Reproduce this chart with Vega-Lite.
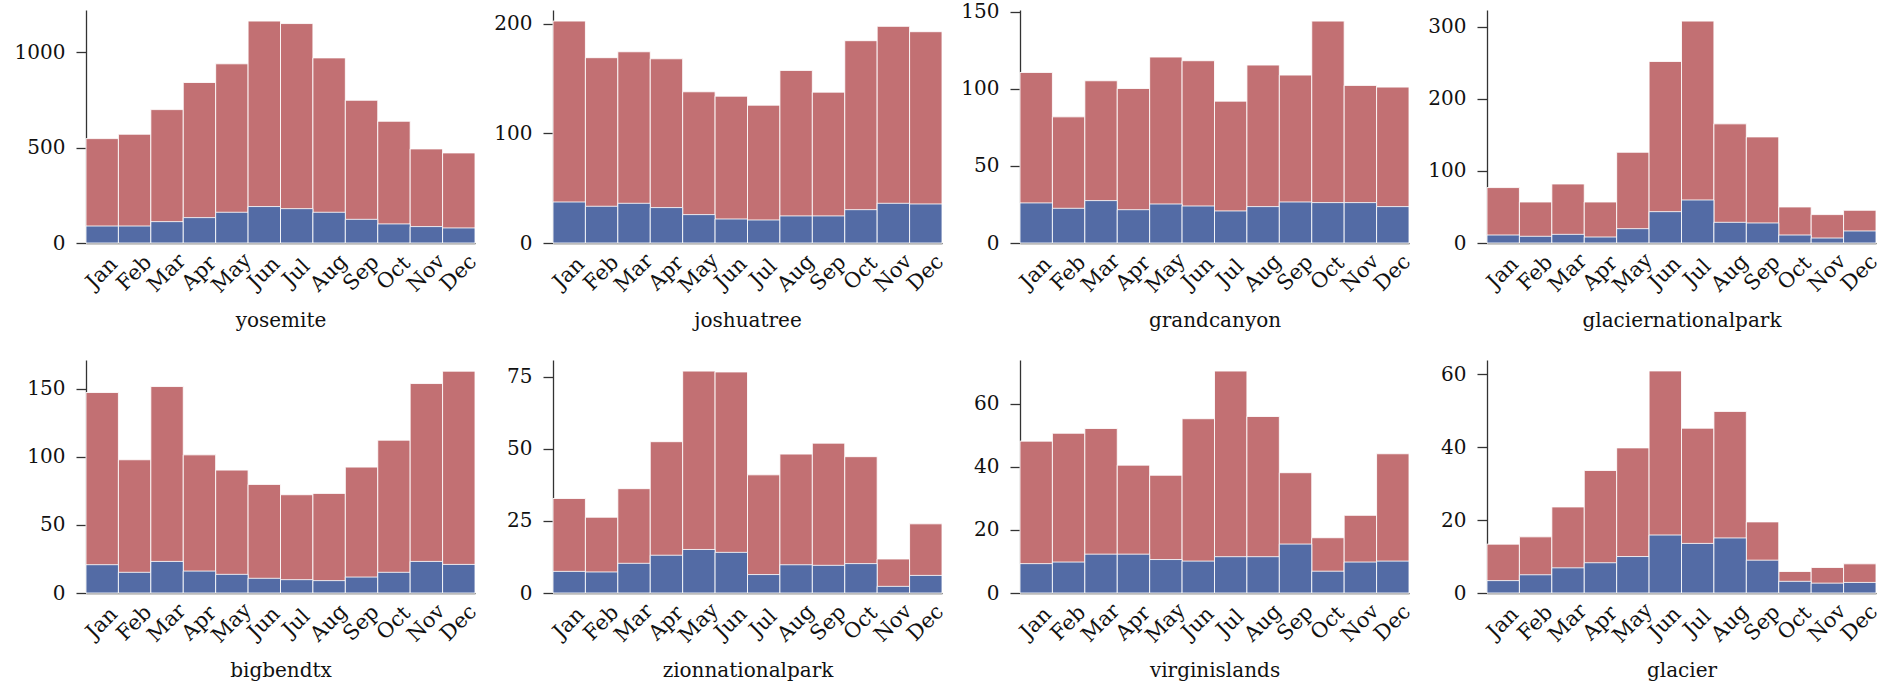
{
  "$schema": "https://vega.github.io/schema/vega-lite/v6.json",
  "background": "white",
  "padding": {"left": 14, "top": 1, "right": 0, "bottom": 0},
  "columns": 4,
  "bounds": "flush",
  "spacing": {"row": 117, "column": 78},
  "config": {
    "view": {"stroke": null},
    "font": "DejaVu Serif",
    "bar": {"stroke": "#ffffff", "strokeWidth": 1, "strokeOpacity": 0.85},
    "axis": {"labelFont": "DejaVu Serif", "labelFontSize": 20, "labelColor": "#111111", "titleFont": "DejaVu Serif", "titleFontSize": 20, "titleFontWeight": "normal", "titleColor": "#111111", "domainColor": "#333333", "domainWidth": 1.3, "tickColor": "#333333", "tickWidth": 1.3, "grid": false},
    "axisX": {"ticks": false, "labelAngle": -45, "labelAlign": "center", "labelBaseline": "middle", "labelPadding": 30, "labelFontSize": 21, "titlePadding": 14},
    "axisY": {"tickSize": 10, "labelPadding": 11, "labelFontSize": 20}
  },
  "data": {"values": [
    {"park":"yosemite","month":"Jan","total":547,"part":89},
    {"park":"yosemite","month":"Feb","total":570,"part":89},
    {"park":"yosemite","month":"Mar","total":699,"part":112},
    {"park":"yosemite","month":"Apr","total":841,"part":133},
    {"park":"yosemite","month":"May","total":939,"part":161},
    {"park":"yosemite","month":"Jun","total":1163,"part":191},
    {"park":"yosemite","month":"Jul","total":1150,"part":180},
    {"park":"yosemite","month":"Aug","total":970,"part":161},
    {"park":"yosemite","month":"Sep","total":748,"part":124},
    {"park":"yosemite","month":"Oct","total":638,"part":100},
    {"park":"yosemite","month":"Nov","total":493,"part":86},
    {"park":"yosemite","month":"Dec","total":472,"part":79},
    {"park":"joshuatree","month":"Jan","total":202.4,"part":37.4},
    {"park":"joshuatree","month":"Feb","total":169,"part":33.5},
    {"park":"joshuatree","month":"Mar","total":174.4,"part":36.2},
    {"park":"joshuatree","month":"Apr","total":168,"part":32.3},
    {"park":"joshuatree","month":"May","total":137.9,"part":25.9},
    {"park":"joshuatree","month":"Jun","total":133.9,"part":21.9},
    {"park":"joshuatree","month":"Jul","total":125.7,"part":21},
    {"park":"joshuatree","month":"Aug","total":157.4,"part":24.7},
    {"park":"joshuatree","month":"Sep","total":137.6,"part":24.7},
    {"park":"joshuatree","month":"Oct","total":184.5,"part":30.4},
    {"park":"joshuatree","month":"Nov","total":197.6,"part":36.2},
    {"park":"joshuatree","month":"Dec","total":192.7,"part":35.6},
    {"park":"grandcanyon","month":"Jan","total":110.6,"part":26},
    {"park":"grandcanyon","month":"Feb","total":81.8,"part":22.5},
    {"park":"grandcanyon","month":"Mar","total":105.2,"part":27.5},
    {"park":"grandcanyon","month":"Apr","total":100.2,"part":21.6},
    {"park":"grandcanyon","month":"May","total":120.6,"part":25.3},
    {"park":"grandcanyon","month":"Jun","total":118.2,"part":24},
    {"park":"grandcanyon","month":"Jul","total":92,"part":20.8},
    {"park":"grandcanyon","month":"Aug","total":115.4,"part":23.6},
    {"park":"grandcanyon","month":"Sep","total":108.9,"part":26.6},
    {"park":"grandcanyon","month":"Oct","total":143.9,"part":26.2},
    {"park":"grandcanyon","month":"Nov","total":102.2,"part":26.2},
    {"park":"grandcanyon","month":"Dec","total":101.1,"part":23.6},
    {"park":"glaciernationalpark","month":"Jan","total":76.9,"part":11.1},
    {"park":"glaciernationalpark","month":"Feb","total":56.9,"part":9.3},
    {"park":"glaciernationalpark","month":"Mar","total":81.9,"part":12},
    {"park":"glaciernationalpark","month":"Apr","total":56.9,"part":8.3},
    {"park":"glaciernationalpark","month":"May","total":125.9,"part":19.9},
    {"park":"glaciernationalpark","month":"Jun","total":251.9,"part":43.5},
    {"park":"glaciernationalpark","month":"Jul","total":307.9,"part":59.7},
    {"park":"glaciernationalpark","month":"Aug","total":165.3,"part":28.7},
    {"park":"glaciernationalpark","month":"Sep","total":147.2,"part":27.8},
    {"park":"glaciernationalpark","month":"Oct","total":50,"part":11.1},
    {"park":"glaciernationalpark","month":"Nov","total":39.4,"part":6.9},
    {"park":"glaciernationalpark","month":"Dec","total":45.4,"part":16.7},
    {"park":"bigbendtx","month":"Jan","total":147.3,"part":20.8},
    {"park":"bigbendtx","month":"Feb","total":97.9,"part":15.2},
    {"park":"bigbendtx","month":"Mar","total":151.7,"part":23.2},
    {"park":"bigbendtx","month":"Apr","total":101.5,"part":16.1},
    {"park":"bigbendtx","month":"May","total":90.3,"part":13.7},
    {"park":"bigbendtx","month":"Jun","total":79.8,"part":10.8},
    {"park":"bigbendtx","month":"Jul","total":72.2,"part":9.8},
    {"park":"bigbendtx","month":"Aug","total":73.2,"part":9.1},
    {"park":"bigbendtx","month":"Sep","total":92.5,"part":11.7},
    {"park":"bigbendtx","month":"Oct","total":112.3,"part":15.2},
    {"park":"bigbendtx","month":"Nov","total":153.9,"part":23.2},
    {"park":"bigbendtx","month":"Dec","total":163,"part":21},
    {"park":"zionnationalpark","month":"Jan","total":32.8,"part":7.5},
    {"park":"zionnationalpark","month":"Feb","total":26.3,"part":7.3},
    {"park":"zionnationalpark","month":"Mar","total":36.2,"part":10.3},
    {"park":"zionnationalpark","month":"Apr","total":52.5,"part":13.1},
    {"park":"zionnationalpark","month":"May","total":77,"part":15.1},
    {"park":"zionnationalpark","month":"Jun","total":76.7,"part":14.1},
    {"park":"zionnationalpark","month":"Jul","total":41,"part":6.4},
    {"park":"zionnationalpark","month":"Aug","total":48.2,"part":9.8},
    {"park":"zionnationalpark","month":"Sep","total":52,"part":9.6},
    {"park":"zionnationalpark","month":"Oct","total":47.3,"part":10.2},
    {"park":"zionnationalpark","month":"Nov","total":11.8,"part":2.3},
    {"park":"zionnationalpark","month":"Dec","total":24,"part":6.1},
    {"park":"virginislands","month":"Jan","total":48.1,"part":9.3},
    {"park":"virginislands","month":"Feb","total":50.6,"part":9.8},
    {"park":"virginislands","month":"Mar","total":52.1,"part":12.3},
    {"park":"virginislands","month":"Apr","total":40.5,"part":12.3},
    {"park":"virginislands","month":"May","total":37.3,"part":10.6},
    {"park":"virginislands","month":"Jun","total":55.2,"part":10.1},
    {"park":"virginislands","month":"Jul","total":70.3,"part":11.5},
    {"park":"virginislands","month":"Aug","total":55.9,"part":11.5},
    {"park":"virginislands","month":"Sep","total":38.1,"part":15.5},
    {"park":"virginislands","month":"Oct","total":17.5,"part":6.9},
    {"park":"virginislands","month":"Nov","total":24.6,"part":9.8},
    {"park":"virginislands","month":"Dec","total":44.1,"part":10.1},
    {"park":"glacier","month":"Jan","total":13.4,"part":3.4},
    {"park":"glacier","month":"Feb","total":15.4,"part":5},
    {"park":"glacier","month":"Mar","total":23.6,"part":6.9},
    {"park":"glacier","month":"Apr","total":33.6,"part":8.3},
    {"park":"glacier","month":"May","total":39.8,"part":10},
    {"park":"glacier","month":"Jun","total":60.9,"part":15.9},
    {"park":"glacier","month":"Jul","total":45.2,"part":13.6},
    {"park":"glacier","month":"Aug","total":49.8,"part":15.1},
    {"park":"glacier","month":"Sep","total":19.5,"part":9},
    {"park":"glacier","month":"Oct","total":5.9,"part":3.2},
    {"park":"glacier","month":"Nov","total":7,"part":2.7},
    {"park":"glacier","month":"Dec","total":8,"part":2.9}
  ]},
  "concat": [
    {"transform":[{"filter":"datum.park == 'yosemite'"}],"width":389,"height":233,
     "encoding":{"x":{"field":"month","type":"ordinal","sort":["Jan","Feb","Mar","Apr","May","Jun","Jul","Aug","Sep","Oct","Nov","Dec"],"scale":{"paddingInner":0,"paddingOuter":0},"title":"yosemite"}},
     "layer":[
       {"mark":{"type":"bar","color":"#C27073"},"encoding":{"y":{"field":"total","type":"quantitative","title":null,"scale":{"domain":[0,1221],"nice":false},"axis":{"values":[0,500,1000],"format":"d"}}}},
       {"mark":{"type":"bar","color":"#536BA5"},"encoding":{"y":{"field":"part","type":"quantitative","title":null}}}
     ]},
    {"transform":[{"filter":"datum.park == 'joshuatree'"}],"width":389,"height":233,
     "encoding":{"x":{"field":"month","type":"ordinal","sort":["Jan","Feb","Mar","Apr","May","Jun","Jul","Aug","Sep","Oct","Nov","Dec"],"scale":{"paddingInner":0,"paddingOuter":0},"title":"joshuatree"}},
     "layer":[
       {"mark":{"type":"bar","color":"#C27073"},"encoding":{"y":{"field":"total","type":"quantitative","title":null,"scale":{"domain":[0,212.5],"nice":false},"axis":{"values":[0,100,200]}}}},
       {"mark":{"type":"bar","color":"#536BA5"},"encoding":{"y":{"field":"part","type":"quantitative","title":null}}}
     ]},
    {"transform":[{"filter":"datum.park == 'grandcanyon'"}],"width":389,"height":233,
     "encoding":{"x":{"field":"month","type":"ordinal","sort":["Jan","Feb","Mar","Apr","May","Jun","Jul","Aug","Sep","Oct","Nov","Dec"],"scale":{"paddingInner":0,"paddingOuter":0},"title":"grandcanyon"}},
     "layer":[
       {"mark":{"type":"bar","color":"#C27073"},"encoding":{"y":{"field":"total","type":"quantitative","title":null,"scale":{"domain":[0,151.1],"nice":false},"axis":{"values":[0,50,100,150]}}}},
       {"mark":{"type":"bar","color":"#536BA5"},"encoding":{"y":{"field":"part","type":"quantitative","title":null}}}
     ]},
    {"transform":[{"filter":"datum.park == 'glaciernationalpark'"}],"width":389,"height":233,
     "encoding":{"x":{"field":"month","type":"ordinal","sort":["Jan","Feb","Mar","Apr","May","Jun","Jul","Aug","Sep","Oct","Nov","Dec"],"scale":{"paddingInner":0,"paddingOuter":0},"title":"glaciernationalpark"}},
     "layer":[
       {"mark":{"type":"bar","color":"#C27073"},"encoding":{"y":{"field":"total","type":"quantitative","title":null,"scale":{"domain":[0,323.3],"nice":false},"axis":{"values":[0,100,200,300]}}}},
       {"mark":{"type":"bar","color":"#536BA5"},"encoding":{"y":{"field":"part","type":"quantitative","title":null}}}
     ]},
    {"transform":[{"filter":"datum.park == 'bigbendtx'"}],"width":389,"height":233,
     "encoding":{"x":{"field":"month","type":"ordinal","sort":["Jan","Feb","Mar","Apr","May","Jun","Jul","Aug","Sep","Oct","Nov","Dec"],"scale":{"paddingInner":0,"paddingOuter":0},"title":"bigbendtx"}},
     "layer":[
       {"mark":{"type":"bar","color":"#C27073"},"encoding":{"y":{"field":"total","type":"quantitative","title":null,"scale":{"domain":[0,171.2],"nice":false},"axis":{"values":[0,50,100,150]}}}},
       {"mark":{"type":"bar","color":"#536BA5"},"encoding":{"y":{"field":"part","type":"quantitative","title":null}}}
     ]},
    {"transform":[{"filter":"datum.park == 'zionnationalpark'"}],"width":389,"height":233,
     "encoding":{"x":{"field":"month","type":"ordinal","sort":["Jan","Feb","Mar","Apr","May","Jun","Jul","Aug","Sep","Oct","Nov","Dec"],"scale":{"paddingInner":0,"paddingOuter":0},"title":"zionnationalpark"}},
     "layer":[
       {"mark":{"type":"bar","color":"#C27073"},"encoding":{"y":{"field":"total","type":"quantitative","title":null,"scale":{"domain":[0,80.85],"nice":false},"axis":{"values":[0,25,50,75]}}}},
       {"mark":{"type":"bar","color":"#536BA5"},"encoding":{"y":{"field":"part","type":"quantitative","title":null}}}
     ]},
    {"transform":[{"filter":"datum.park == 'virginislands'"}],"width":389,"height":233,
     "encoding":{"x":{"field":"month","type":"ordinal","sort":["Jan","Feb","Mar","Apr","May","Jun","Jul","Aug","Sep","Oct","Nov","Dec"],"scale":{"paddingInner":0,"paddingOuter":0},"title":"virginislands"}},
     "layer":[
       {"mark":{"type":"bar","color":"#C27073"},"encoding":{"y":{"field":"total","type":"quantitative","title":null,"scale":{"domain":[0,73.8],"nice":false},"axis":{"values":[0,20,40,60]}}}},
       {"mark":{"type":"bar","color":"#536BA5"},"encoding":{"y":{"field":"part","type":"quantitative","title":null}}}
     ]},
    {"transform":[{"filter":"datum.park == 'glacier'"}],"width":389,"height":233,
     "encoding":{"x":{"field":"month","type":"ordinal","sort":["Jan","Feb","Mar","Apr","May","Jun","Jul","Aug","Sep","Oct","Nov","Dec"],"scale":{"paddingInner":0,"paddingOuter":0},"title":"glacier"}},
     "layer":[
       {"mark":{"type":"bar","color":"#C27073"},"encoding":{"y":{"field":"total","type":"quantitative","title":null,"scale":{"domain":[0,63.9],"nice":false},"axis":{"values":[0,20,40,60]}}}},
       {"mark":{"type":"bar","color":"#536BA5"},"encoding":{"y":{"field":"part","type":"quantitative","title":null}}}
     ]}
  ]
}
